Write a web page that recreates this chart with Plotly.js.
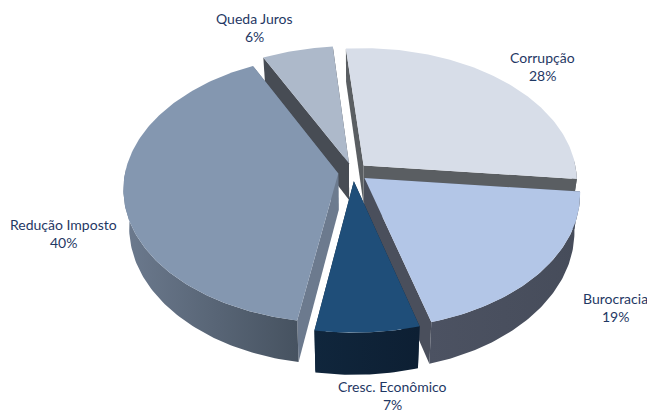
<!DOCTYPE html>
<html><head><meta charset="utf-8">
<script src="https://cdn.plot.ly/plotly-3.0.1.min.js"></script>
<style>html,body{margin:0;padding:0;background:#fff}#c{width:647px;height:412px}</style>
</head><body><div id="c"></div>
<script>
const categories = ["Corrupção","Burocracia","Cresc. Econômico","Redução Imposto","Queda Juros"];
const values = [28,19,7,40,6];
const topColors = ["#d7dde8","#b3c6e7","#1f4e79","#8497b0","#adb9ca"];
const wallColors = [["#5a5e62","#5a5e62"],["#4c5262","#464c5a"],["#10263c","#0d1f33"],["#6c7a8e","#465260"],["#474c54","#474c54"]];
const startCutColors = ["#5a5e62","#4a4f5c","#10263c","#6c7a8e","#474c54"];
const endCutColors = ["#5a5e62","#4a4f5c","#10263c","#6c7b8f","#474c54"];
const labelX = [542,615,392,63,254];
const labelY = [57,298,386,224,18];
const drawOrder = [0,4,3,1,2];

const cx=353, cy=172, R=213, tilt=0.62, persp=0.113, pull=0.07, depth=37, startDeg=-5, narrow=0.025;
const rad=d=>d*Math.PI/180;
function proj(X,Y,z){const p=1/(1-persp*Y);return [cx+R*X*p*(1-narrow*z/depth), cy+R*tilt*Y*p+z*p];}
function poly(pts,fill,grad){
  const t={type:'scatter',mode:'lines',x:pts.map(p=>p[0]),y:pts.map(p=>p[1]),fill:'toself',
    line:{width:0},hoverinfo:'skip',showlegend:false,fillcolor:fill};
  if(grad) t.fillgradient=grad;
  return t;
}
const total=values.reduce((a,b)=>a+b,0);
let acc=startDeg; const slices=values.map(v=>{const a=acc,b=acc+v/total*360;acc=b;return [a,b];});
const traces=[];
drawOrder.forEach(i=>{
  const [a,b]=slices[i], m=rad((a+b)/2);
  const ox=pull*Math.sin(m), oy=-pull*Math.cos(m);
  const rim=[]; for(let d=a;d<b;d+=1) rim.push(d); rim.push(b);
  const pt=(d,z)=>proj(ox+Math.sin(rad(d)),oy-Math.cos(rad(d)),z);
  const apex0=proj(ox,oy,0), apexD=proj(ox,oy,depth);
  traces.push(poly([apex0,pt(a,0),pt(a,depth),apexD,apex0],startCutColors[i]));
  traces.push(poly([apex0,pt(b,0),pt(b,depth),apexD,apex0],endCutColors[i]));
  const front=rim.filter(d=>Math.cos(rad(d))<=0.05);
  if(front.length>1){
    const upper=front.map(d=>pt(d,0)), lower=front.map(d=>pt(d,depth)).reverse();
    const w=[...upper,...lower,upper[0]];
    const xs=w.map(p=>p[0]); const lo=Math.min(...xs), hi=Math.max(...xs);
    traces.push(poly(w,wallColors[i][0],{type:'horizontal',start:lo,stop:hi,
      colorscale:[[0,wallColors[i][0]],[1,wallColors[i][1]]]}));
  }
  const top=[apex0,...rim.map(d=>pt(d,0)),apex0];
  traces.push(poly(top,topColors[i]));
});
const ann=[];
categories.forEach((c,i)=>{
  const f={family:'Lato, "Open Sans", sans-serif',size:14,color:'#1f3864'};
  ann.push({x:labelX[i],y:labelY[i],xref:'x',yref:'y',text:c,showarrow:false,font:f,xanchor:'center',yanchor:'middle'});
  ann.push({x:labelX[i],y:labelY[i]+18.5,xref:'x',yref:'y',text:values[i]+'%',showarrow:false,font:f,xanchor:'center',yanchor:'middle'});
});
Plotly.newPlot('c',traces,{
  width:647,height:412,margin:{l:0,r:0,t:0,b:0},paper_bgcolor:'#fff',plot_bgcolor:'#fff',
  xaxis:{range:[0,647],visible:false,fixedrange:true},
  yaxis:{range:[412,0],visible:false,fixedrange:true},
  annotations:ann,showlegend:false
},{displayModeBar:false,staticPlot:true});
</script></body></html>
